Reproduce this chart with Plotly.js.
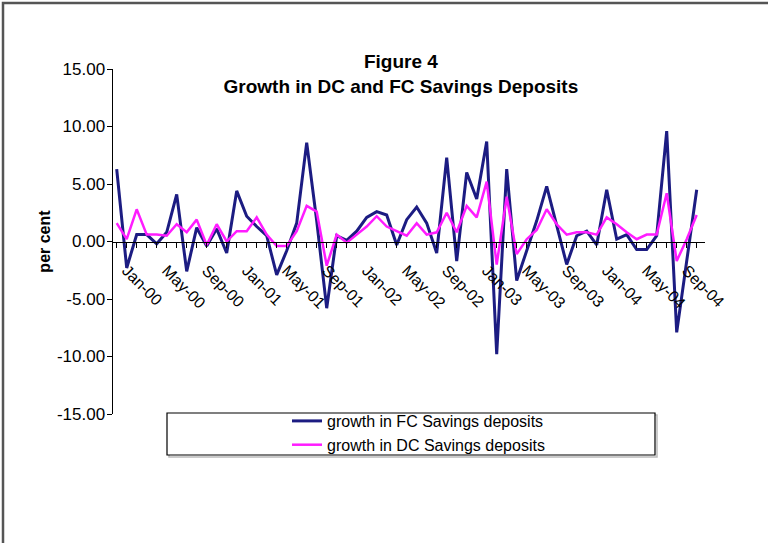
<!DOCTYPE html>
<html><head><meta charset="utf-8">
<script src="https://cdn.plot.ly/plotly-3.0.1.min.js"></script>
<style>body{margin:0;background:#fff}#chart{width:768px;height:543px}</style>
</head><body><div id="chart"></div>
<script>
const months = ['Dec-99',
 'Jan-00','Feb-00','Mar-00','Apr-00','May-00','Jun-00','Jul-00','Aug-00','Sep-00','Oct-00','Nov-00','Dec-00',
 'Jan-01','Feb-01','Mar-01','Apr-01','May-01','Jun-01','Jul-01','Aug-01','Sep-01','Oct-01','Nov-01','Dec-01',
 'Jan-02','Feb-02','Mar-02','Apr-02','May-02','Jun-02','Jul-02','Aug-02','Sep-02','Oct-02','Nov-02','Dec-02',
 'Jan-03','Feb-03','Mar-03','Apr-03','May-03','Jun-03','Jul-03','Aug-03','Sep-03','Oct-03','Nov-03','Dec-03',
 'Jan-04','Feb-04','Mar-04','Apr-04','May-04','Jun-04','Jul-04','Aug-04','Sep-04','Oct-04'];
const tickLabels = ['Jan-00','May-00','Sep-00','Jan-01','May-01','Sep-01','Jan-02','May-02','Sep-02',
 'Jan-03','May-03','Sep-03','Jan-04','May-04','Sep-04'];
const fcGrowth = [6.3,-2.3,0.6,0.6,-0.2,0.8,4.1,-2.6,1.2,-0.4,1.1,-1.0,4.4,2.2,1.3,0.5,-2.9,-0.8,1.6,8.6,
 1.8,-5.8,0.5,0.1,0.9,2.1,2.6,2.3,-0.3,1.9,3.0,1.6,-1.0,7.3,-1.7,6.0,3.7,8.7,-9.8,6.3,
 -3.4,-0.8,1.8,4.8,1.3,-2.0,0.5,0.9,-0.3,4.5,0.2,0.6,-0.7,-0.7,0.5,9.6,-7.9,-1.5,4.5];
const dcGrowth = [1.6,0.2,2.8,0.6,0.6,0.5,1.5,0.8,1.9,-0.3,1.5,0.0,0.9,0.9,2.1,0.6,-0.4,-0.4,0.9,3.1,
 2.6,-2.1,0.6,-0.1,0.6,1.3,2.2,1.3,0.9,0.5,1.6,0.6,0.8,2.5,0.8,3.1,2.1,5.2,-2.0,3.9,
 -1.1,0.2,1.0,2.8,1.5,0.6,0.8,0.8,0.6,2.1,1.5,0.8,0.2,0.6,0.6,4.2,-1.7,0.2,2.3];
const seriesNames = ['growth in FC Savings deposits','growth in DC Savings deposits'];
const yTicks = [-15,-10,-5,0,5,10,15];

const traces = [
 {x: months, y: fcGrowth, name: seriesNames[0], type:'scatter', mode:'lines',
  line:{color:'#1c1c82', width:3}},
 {x: months, y: dcGrowth, name: seriesNames[1], type:'scatter', mode:'lines',
  line:{color:'#ff1cff', width:2.5}}
];

const L=113, R=705, T=69, B=414;
const px = v => (v-L)/(R-L);
const py = v => (B-v)/(B-T);

const layout = {
 width:768, height:543,
 margin:{l:L, r:768-R, t:T, b:543-B},
 paper_bgcolor:'#fff', plot_bgcolor:'rgba(0,0,0,0)',
 font:{family:'Liberation Sans, Arial, sans-serif', color:'#000'},
 title:{text:'<b>Figure 4</b><br><b>Growth in DC and FC Savings Deposits</b>',
  font:{size:19, family:'Liberation Sans, Arial, sans-serif'},
  x:0.522, xref:'container', xanchor:'center', y:0.874, yref:'container', yanchor:'top'},
 showlegend:true,
 legend:{x:px(287), y:py(404), xanchor:'left', yanchor:'top', bgcolor:'rgba(0,0,0,0)',
  borderwidth:0, font:{size:16}, tracegroupgap:0},
 xaxis:{type:'category', range:[-0.37,58.83], anchor:'free', position:0.5,
  showline:true, linecolor:'#000', linewidth:1.5, showgrid:false, zeroline:false,
  ticks:'outside', ticklen:5, tickcolor:'#000', tickwidth:1,
  tickmode:'array', tickvals:months,
  ticktext: months.map(m => tickLabels.includes(m) ? m : ''),
  tickangle:45, tickfont:{size:16}, ticklabelstandoff:7},
 yaxis:{range:[-15,15], tickmode:'array', tickvals:yTicks, ticktext:yTicks.map(v=>v.toFixed(2)),
  showline:true, linecolor:'#000', linewidth:1.5, showgrid:false, zeroline:false,
  ticks:'outside', ticklen:5, tickcolor:'#000', tickfont:{size:17}, ticklabelstandoff:-2,
  title:{text:'<b>per cent</b>', font:{size:16}, standoff:2}},
 shapes:[
  {type:'rect', xref:'paper', yref:'paper', x0:px(3), x1:px(775), y0:py(548), y1:py(3),
   line:{color:'#555', width:2.5}, fillcolor:'rgba(0,0,0,0)', layer:'below'},
  {type:'rect', xref:'paper', yref:'paper', x0:px(169), x1:px(657), y0:py(457), y1:py(415),
   line:{color:'#bbb', width:1.5}, fillcolor:'rgba(0,0,0,0)', layer:'below'},
  {type:'rect', xref:'paper', yref:'paper', x0:px(167), x1:px(655), y0:py(455), y1:py(413),
   line:{color:'#000', width:1.2}, fillcolor:'#fff', layer:'below'}
 ]
};
Plotly.newPlot('chart', traces, layout, {displayModeBar:false, staticPlot:true});
</script></body></html>
